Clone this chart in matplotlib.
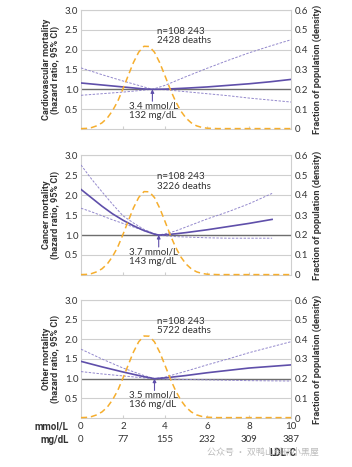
import numpy as np
import matplotlib.pyplot as plt
from matplotlib.transforms import blended_transform_factory

# ---------------- DATA -----------------
# population density of LDL-C (mmol/L), same curve in all panels
dens_x = [0, 0.25, 0.5, 0.75, 1.0, 1.25, 1.5, 1.75, 2.0, 2.25, 2.5, 2.75, 3.0,
          3.25, 3.5, 3.75, 4.0, 4.25, 4.5, 4.75, 5.0, 5.25, 5.5, 5.75, 6.0,
          6.5, 7.0, 8.0, 9.0, 10.0]
dens_y = [0.002, 0.003, 0.007, 0.016, 0.031, 0.055, 0.092, 0.14, 0.203, 0.27,
          0.336, 0.388, 0.417, 0.416, 0.387, 0.334, 0.268, 0.2, 0.14, 0.091,
          0.055, 0.031, 0.016, 0.008, 0.004, 0.002, 0.002, 0.002, 0.002, 0.002]

# cardiovascular mortality
cv_x = [0, 1, 2, 3, 3.4, 4, 5, 6, 7, 8, 9, 10]
cv_hr = [1.16, 1.11, 1.06, 1.01, 1.0, 1.005, 1.03, 1.06, 1.1, 1.14, 1.19, 1.25]
cv_hi = [1.54, 1.37, 1.21, 1.06, 1.0, 1.1, 1.32, 1.53, 1.73, 1.92, 2.09, 2.25]
cv_lo = [0.85, 0.89, 0.93, 0.98, 1.0, 0.99, 0.94, 0.89, 0.84, 0.78, 0.73, 0.68]

# cancer mortality
ca_x = [0, 0.5, 1, 1.5, 2, 2.5, 3, 3.5, 3.7, 4, 4.5, 5, 6, 7, 8, 9.1]
ca_hr = [2.14, 1.93, 1.72, 1.53, 1.37, 1.23, 1.11, 1.02, 1.0, 1.005, 1.03,
         1.06, 1.13, 1.21, 1.29, 1.39]
ca_hi = [2.75, 2.4, 2.08, 1.77, 1.48, 1.3, 1.14, 1.03, 1.0, 1.03, 1.1, 1.2,
         1.4, 1.58, 1.78, 2.04]
ca_lo = [1.67, 1.58, 1.48, 1.38, 1.29, 1.2, 1.11, 1.03, 1.0, 0.98, 0.96,
         0.95, 0.93, 0.92, 0.92, 0.92]

# other mortality
ot_x = [0, 1, 2, 3, 3.5, 4, 5, 6, 7, 8, 9, 10]
ot_hr = [1.44, 1.3, 1.17, 1.05, 1.0, 1.02, 1.08, 1.15, 1.21, 1.27, 1.31, 1.35]
ot_hi = [1.75, 1.5, 1.27, 1.08, 1.0, 1.04, 1.19, 1.35, 1.5, 1.66, 1.8, 1.94]
ot_lo = [1.18, 1.12, 1.07, 1.02, 1.0, 0.99, 0.98, 0.97, 0.96, 0.95, 0.945, 0.94]

panels = [
    ("Cardiovascular mortality\n(hazard ratio, 95% CI)", cv_x, cv_hr, cv_hi, cv_lo,
     "2428 deaths", 3.4, "3.4 mmol/L\n132 mg/dL"),
    ("Cancer mortality\n(hazard ratio, 95% CI)", ca_x, ca_hr, ca_hi, ca_lo,
     "3226 deaths", 3.7, "3.7 mmol/L\n143 mg/dL"),
    ("Other mortality\n(hazard ratio, 95% CI)", ot_x, ot_hr, ot_hi, ot_lo,
     "5722 deaths", 3.5, "3.5 mmol/L\n136 mg/dL"),
]

mmol_ticks = [0, 2, 4, 6, 8, 10]
mgdl_labels = ["0", "77", "155", "232", "309", "387"]
hr_ticks = [0.5, 1.0, 1.5, 2.0, 2.5, 3.0]
dens_ticks = [0, 0.1, 0.2, 0.3, 0.4, 0.5, 0.6]

PURPLE = "#5F4FAA"
PURPLE_LIGHT = "#9388CC"
ORANGE = "#F6AE2D"
GRID = "#cfcfcf"
TXT = "#333333"
FS = 7
BOLD = dict(family=['Roboto', 'DejaVu Sans'], fontweight='bold')

plt.rcParams['font.family'] = ['Lato', 'DejaVu Sans']

fig = plt.figure(figsize=(3.52, 4.67), dpi=100)

# axes boxes in pixels (top, bottom)
boxes = [(10, 129), (155, 275), (300, 418)]
left_px, right_px = 81, 291
W, H = 352, 467

axes = []
for (top, bot), (ylab, xs, hr, hi, lo, deaths, xmin, mintxt) in zip(boxes, panels):
    ax = fig.add_axes([left_px / W, 1 - bot / H, (right_px - left_px) / W, (bot - top) / H])
    axes.append(ax)
    ax.set_xlim(0, 10)
    ax.set_ylim(0, 3.0)
    for y in hr_ticks:
        ax.axhline(y, color="#6e6e6e" if y == 1.0 else GRID,
                   lw=1.0 if y == 1.0 else 0.8, zorder=1)
    for s in ax.spines.values():
        s.set_color(GRID)
        s.set_linewidth(0.8)
    ax.set_yticks(hr_ticks)
    ax.set_yticklabels([f"{t:.1f}" for t in hr_ticks], fontsize=FS, color=TXT)
    ax.tick_params(axis='y', length=0, pad=2)
    ax.set_xticks(mmol_ticks[1:-1])
    ax.set_xticklabels([])
    ax.tick_params(axis='x', direction='in', length=2.5, color=GRID)
    ax.set_ylabel(ylab, fontsize=FS - 0.4, color=TXT, labelpad=3,
                  linespacing=1.0, **BOLD)

    ax.plot(xs, hi, color=PURPLE_LIGHT, lw=0.7, ls=(0, (2.5, 1.5)), zorder=3)
    ax.plot(xs, lo, color=PURPLE_LIGHT, lw=0.7, ls=(0, (2.5, 1.5)), zorder=3)
    ax.plot(xs, hr, color=PURPLE, lw=1.2, zorder=4)

    ax.text(3.6, 2.58, "n=108 243\n" + deaths, fontsize=FS, color=TXT,
            va='top', ha='left', linespacing=1.1, zorder=6)
    ax.annotate("", xy=(xmin, 1.0), xytext=(xmin, 0.7),
                arrowprops=dict(arrowstyle='-|>', color=PURPLE, lw=0.8,
                                mutation_scale=5, shrinkA=0, shrinkB=0), zorder=6)
    ax.text(2.3, 0.7, mintxt, fontsize=FS, color=TXT, va='top', ha='left',
            linespacing=1.1, zorder=6)

    ax2 = ax.twinx()
    ax2.set_ylim(0, 0.6)
    ax2.set_xlim(0, 10)
    ax2.plot(dens_x, dens_y, color=ORANGE, lw=1.1, ls=(0, (4, 2.5)), zorder=5,
             clip_on=False)
    ax2.set_yticks(dens_ticks)
    ax2.set_yticklabels(["0" if t == 0 else f"{t:.1f}" for t in dens_ticks],
                        fontsize=FS, color=TXT)
    ax2.tick_params(axis='y', length=0, pad=3)
    for s in ax2.spines.values():
        s.set_visible(False)
    ax2.set_ylabel("Fraction of population (density)", fontsize=FS - 0.4,
                   color=TXT, labelpad=3, **BOLD)

# bottom axis text rows
ax = axes[-1]
tr = blended_transform_factory(ax.transData, ax.transAxes)
for x, lab in zip(mmol_ticks, mgdl_labels):
    ax.text(x, -0.075, str(x), transform=tr, ha='center', va='center', fontsize=FS, color=TXT)
    ax.text(x, -0.185, lab, transform=tr, ha='center', va='center', fontsize=FS, color=TXT)
ax.text(-0.6, -0.075, "mmol/L", transform=tr, ha='right', va='center',
        fontsize=FS, color=TXT, **BOLD)
ax.text(-0.6, -0.185, "mg/dL", transform=tr, ha='right', va='center',
        fontsize=FS, color=TXT, **BOLD)
ax.text(9.6, -0.295, "LDL-C", transform=tr, ha='center', va='center',
        fontsize=FS, color=TXT, **BOLD)

# watermark
fig.text(207 / W, 1 - 452 / H, "公众号 · 双鸭山科研小黑屋", fontsize=6.5,
         color="#b5b5b5", va='center', ha='left',
         family=['Noto Sans CJK SC', 'DejaVu Sans'], alpha=0.9)

fig.savefig("out.png", dpi=100)
